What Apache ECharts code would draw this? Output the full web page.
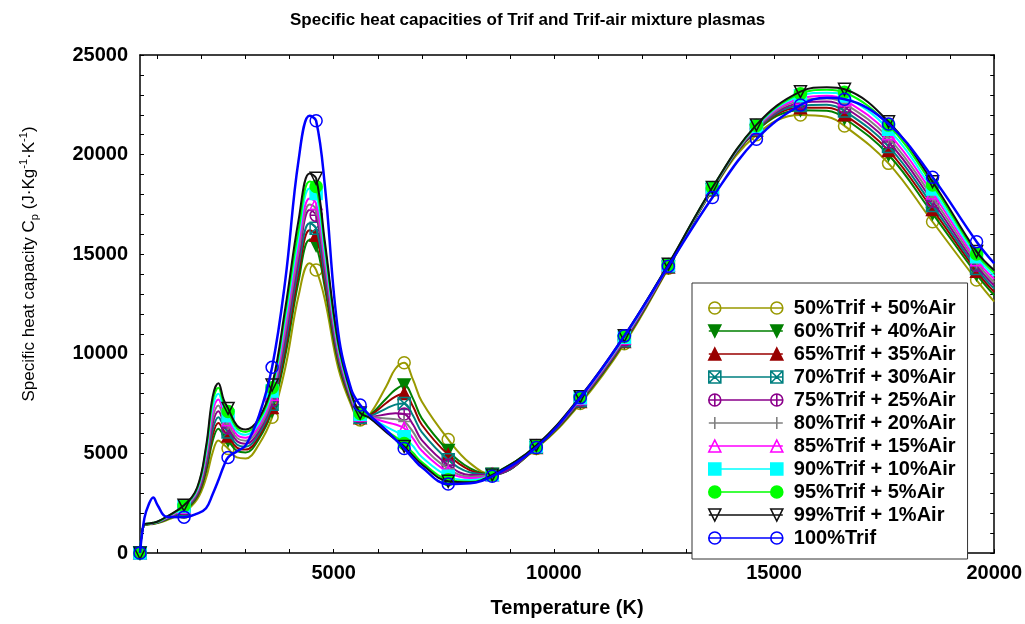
<!DOCTYPE html>
<html><head><meta charset="utf-8">
<script src="https://cdn.jsdelivr.net/npm/echarts@6/dist/echarts.min.js"></script>
<style>html,body{margin:0;padding:0;background:#fff}#c{width:1025px;height:624px}</style>
</head><body><div id="c"></div>
<script>
// ---------------- data ----------------
const temperatureK = [600,700,800,900,1000,1200,1600,1900,2100,2250,2380,2500,2600,2800,3000,3300,3600,3900,4200,4450,4600,4800,5100,5400,5600,5800,6200,6400,6600,6800,7000,7600,8100,8600,9600,10600,11600,12600,13600,14600,15600,16200,16600,17600,18600,19600,20000];
const markerTemps = [600,1600,2600,3600,4600,5600,6600,7600,8600,9600,10600,11600,12600,13600,14600,15600,16600,17600,18600,19600];

const cp50 = [0,1400,1430,1460,1500,1640,2050,2700,3750,5050,5650,5450,5250,4800,4750,5450,6810,9300,12900,14550,14210,12700,9300,7400,6680,6900,8400,9250,9550,8700,7600,5700,4500,3950,5250,7500,10500,14300,18200,21000,21990,21900,21440,19560,16630,13700,12620];
const cp60 = [0,1410,1440,1470,1520,1680,2120,2820,4080,5620,6240,5910,5660,5130,5050,5720,7140,9910,13630,15710,15450,13290,9570,7520,6750,6880,7770,8200,8430,7750,6760,5140,4250,3950,5280,7570,10580,14340,18230,21180,22230,22200,21820,19990,17040,13990,12940];
const cp65 = [0,1420,1450,1480,1530,1700,2160,2880,4240,5910,6530,6140,5870,5290,5190,5850,7310,10220,14000,16200,15950,13590,9700,7580,6790,6870,7540,7850,8010,7350,6440,4930,4150,3940,5300,7610,10620,14360,18250,21220,22350,22350,22000,20200,17250,14140,13100];
const cp70 = [0,1420,1450,1490,1530,1710,2190,2950,4400,6190,6820,6370,6070,5450,5340,5980,7470,10520,14370,16550,16300,13880,9830,7650,6820,6860,7260,7450,7510,6900,6070,4680,4040,3940,5310,7640,10660,14380,18260,21260,22470,22500,22190,20410,17450,14280,13270];
const cp75 = [0,1430,1460,1490,1540,1730,2230,3010,4570,6480,7110,6600,6280,5620,5490,6110,7640,10830,14740,17220,16950,14180,9960,7710,6860,6850,6960,7020,6980,6450,5670,4420,3920,3940,5330,7680,10700,14400,18280,21300,22590,22660,22380,20630,17660,14430,13430];
const cp80 = [0,1430,1460,1500,1550,1750,2260,3070,4730,6760,7410,6830,6480,5780,5640,6250,7800,11140,15100,17500,17250,14480,10100,7770,6890,6840,6750,6720,6600,6080,5390,4230,3830,3940,5340,7710,10750,14420,18290,21340,22710,22810,22570,20840,17860,14580,13590];
const cp85 = [0,1440,1470,1500,1560,1770,2300,3130,4890,7050,7700,7060,6690,5940,5790,6380,7970,11440,15470,17800,17550,14770,10230,7830,6930,6830,6560,6450,6260,5760,5130,4060,3760,3930,5360,7750,10790,14440,18310,21380,22830,22960,22750,21050,18070,14720,13750];
const cp90 = [0,1440,1470,1510,1570,1790,2340,3190,5060,7340,7990,7290,6890,6110,5930,6510,8130,11750,15840,18300,18050,15070,10360,7890,6970,6820,6330,6100,5840,5370,4820,3850,3660,3930,5370,7790,10830,14460,18320,21420,22950,23110,22940,21270,18270,14870,13910];
const cp95 = [0,1450,1480,1520,1570,1810,2370,3250,5220,7620,8290,7520,7100,6270,6080,6640,8300,12050,16210,18650,18400,15360,10490,7950,7000,6810,6140,5830,5500,5030,4560,3680,3580,3930,5390,7820,10870,14480,18340,21460,23060,23260,23130,21480,18480,15010,14070];
const cp99 = [0,1450,1480,1520,1580,1820,2400,3300,5350,7850,8520,7700,7260,6400,6200,6750,8430,12300,16700,19050,18810,15600,10600,8000,7030,6800,6050,5700,5350,4880,4450,3600,3550,3920,5400,7850,10900,14500,18350,21490,23160,23380,23280,21650,18640,15130,14200];
const cp100 = [0,1750,2450,2790,2400,1820,1800,1980,2250,2950,3650,4350,4800,5100,5400,6880,9320,13700,19700,21950,21700,18400,11100,8200,7430,6950,6150,5700,5250,4750,4300,3460,3500,3850,5300,7800,10900,14400,17850,20770,22490,22850,22780,21540,18860,15630,14540];

const seriesNames = ['50%Trif + 50%Air','60%Trif + 40%Air','65%Trif + 35%Air','70%Trif + 30%Air','75%Trif + 25%Air','80%Trif + 20%Air','85%Trif + 15%Air','90%Trif + 10%Air','95%Trif + 5%Air','99%Trif + 1%Air','100%Trif'];
const seriesValues = [cp50,cp60,cp65,cp70,cp75,cp80,cp85,cp90,cp95,cp99,cp100];
const yTickLabels = [0,5000,10000,15000,20000,25000];
const xTickLabels = [5000,10000,15000,20000];

// ---------------- styles ----------------
const styles = [
  {color:'#999900', shape:'circle',     filled:false},
  {color:'#008000', shape:'triDown',    filled:true},
  {color:'#990000', shape:'triUp',      filled:true},
  {color:'#008080', shape:'squareX',    filled:false},
  {color:'#8B008B', shape:'circlePlus', filled:false},
  {color:'#808080', shape:'plus',       filled:false},
  {color:'#FF00FF', shape:'triUp',      filled:false},
  {color:'#00FFFF', shape:'square',     filled:true},
  {color:'#00FF00', shape:'circle',     filled:true},
  {color:'#111111', shape:'triDown',    filled:false},
  {color:'#0000FF', shape:'circle',     filled:false}
];

function shapePath(kind, cx, cy, r) {
  const circ = `M${cx-r},${cy}A${r},${r},0,1,1,${cx+r},${cy}A${r},${r},0,1,1,${cx-r},${cy}Z`;
  const sq = `M${cx-r},${cy-r}L${cx+r},${cy-r}L${cx+r},${cy+r}L${cx-r},${cy+r}Z`;
  const pl = `M${cx-r},${cy}L${cx+r},${cy}M${cx},${cy-r}L${cx},${cy+r}`;
  switch (kind) {
    case 'circle': return circ;
    case 'triUp': return `M${cx},${cy-r}L${cx+r},${cy+r}L${cx-r},${cy+r}Z`;
    case 'triDown': return `M${cx-r},${cy-r}L${cx+r},${cy-r}L${cx},${cy+r}Z`;
    case 'square': return sq;
    case 'squareX': return sq + `M${cx-r},${cy-r}L${cx+r},${cy+r}M${cx+r},${cy-r}L${cx-r},${cy+r}`;
    case 'circlePlus': return circ + pl;
    case 'plus': return pl;
  }
}

const FONT = 'Liberation Sans, Arial, Helvetica, sans-serif';

const series = seriesNames.map((name, i) => {
  const st = styles[i];
  const sym = 'path://' + shapePath(st.shape, 0, 0, 10);
  return {
    name: name,
    type: 'line',
    xAxisIndex: 0, yAxisIndex: 0,
    data: temperatureK.map((t, k) => [t, seriesValues[i][k]]),
    smooth: 0.4,
    showAllSymbol: true,
    symbol: function (value) { return markerTemps.indexOf(value[0]) >= 0 ? sym : 'none'; },
    symbolSize: 12,
    lineStyle: { color: st.color, width: i === 10 ? 2.5 : 2 },
    itemStyle: { color: st.filled ? st.color : 'transparent', borderColor: st.color, borderWidth: 1.5 },
    emphasis: { disabled: true },
    z: 2 + i,
    animation: false
  };
});

const legendData = seriesNames.map((name, i) => {
  const st = styles[i];
  return {
    name: name,
    icon: 'path://M0,6L74,6' + shapePath(st.shape, 6, 6, 6) + shapePath(st.shape, 68, 6, 6),
    itemStyle: { color: st.filled ? st.color : 'transparent', borderColor: st.color, borderWidth: 1.6 }
  };
});

const xTicks = []; for (let v = 1000; v <= 20000; v += 1000) xTicks.push(v);
const yTicks = []; for (let v = 0; v <= 25000; v += 1000) yTicks.push(v);

const axisLineStyle = { show: true, onZero: false, lineStyle: { color: '#000', width: 1.5 } };
const tickStyle = { show: true, inside: true, length: 4, lineStyle: { color: '#000', width: 1 } };
const plain = v => String(v);

const chart = echarts.init(document.getElementById('c'), null, { renderer: 'canvas' });
chart.setOption({
  animation: false,
  backgroundColor: '#fff',
  title: {
    text: 'Specific heat capacities of Trif and Trif-air mixture plasmas',
    left: 290, top: 12, padding: 0,
    textStyle: { fontFamily: FONT, fontSize: 17, fontWeight: 'bold', color: '#000' }
  },
  grid: { left: 140, right: 30, top: 55, bottom: 71, containLabel: false },
  legend: {
    orient: 'vertical',
    left: 692, top: 283,
    padding: [15, 12, 11, 16],
    itemWidth: 74, itemHeight: 12, itemGap: 3,
    backgroundColor: '#fff', borderColor: '#333', borderWidth: 1,
    selectedMode: false,
    textStyle: { fontFamily: FONT, fontSize: 20, fontWeight: 'bold', color: '#000', lineHeight: 20, padding: [0,0,0,6] },
    data: legendData,
    z: 20
  },
  xAxis: [
    {
      type: 'value', min: 600, max: 20000, position: 'bottom',
      name: 'Temperature (K)', nameLocation: 'middle', nameGap: 45,
      nameTextStyle: { fontFamily: FONT, fontSize: 20, fontWeight: 'bold', color: '#000' },
      axisLine: axisLineStyle,
      axisTick: Object.assign({}, tickStyle, { customValues: xTicks }),
      axisLabel: { customValues: xTickLabels, formatter: plain, margin: 10, fontFamily: FONT, fontSize: 20, fontWeight: 'bold', color: '#000' },
      splitLine: { show: false }
    },
    {
      type: 'value', min: 600, max: 20000, position: 'top',
      axisLine: axisLineStyle,
      axisTick: Object.assign({}, tickStyle, { customValues: xTicks }),
      axisLabel: { show: false },
      splitLine: { show: false }
    }
  ],
  yAxis: [
    {
      type: 'value', min: 0, max: 25000, position: 'left',
      name: '{a|Specific heat capacity C}{s|p}{a| (J·Kg}{u|-1}{a|·K}{u|-1}{a|)}',
      nameLocation: 'middle', nameGap: 100,
      nameTextStyle: {
        fontFamily: FONT, fontSize: 17, color: '#000', padding: [0, 0, 0, 80],
        rich: {
          a: { fontFamily: FONT, fontSize: 17, color: '#000', lineHeight: 22, verticalAlign: 'middle' },
          s: { fontFamily: FONT, fontSize: 11, color: '#000', lineHeight: 22, verticalAlign: 'bottom' },
          u: { fontFamily: FONT, fontSize: 11, color: '#000', lineHeight: 22, verticalAlign: 'top' }
        }
      },
      axisLine: axisLineStyle,
      axisTick: Object.assign({}, tickStyle, { customValues: yTicks }),
      axisLabel: { customValues: yTickLabels, formatter: plain, margin: 12, fontFamily: FONT, fontSize: 20, fontWeight: 'bold', color: '#000' },
      splitLine: { show: false }
    },
    {
      type: 'value', min: 0, max: 25000, position: 'right',
      axisLine: axisLineStyle,
      axisTick: Object.assign({}, tickStyle, { customValues: yTicks }),
      axisLabel: { show: false },
      splitLine: { show: false }
    }
  ],
  series: series
});
</script>
</body></html>
